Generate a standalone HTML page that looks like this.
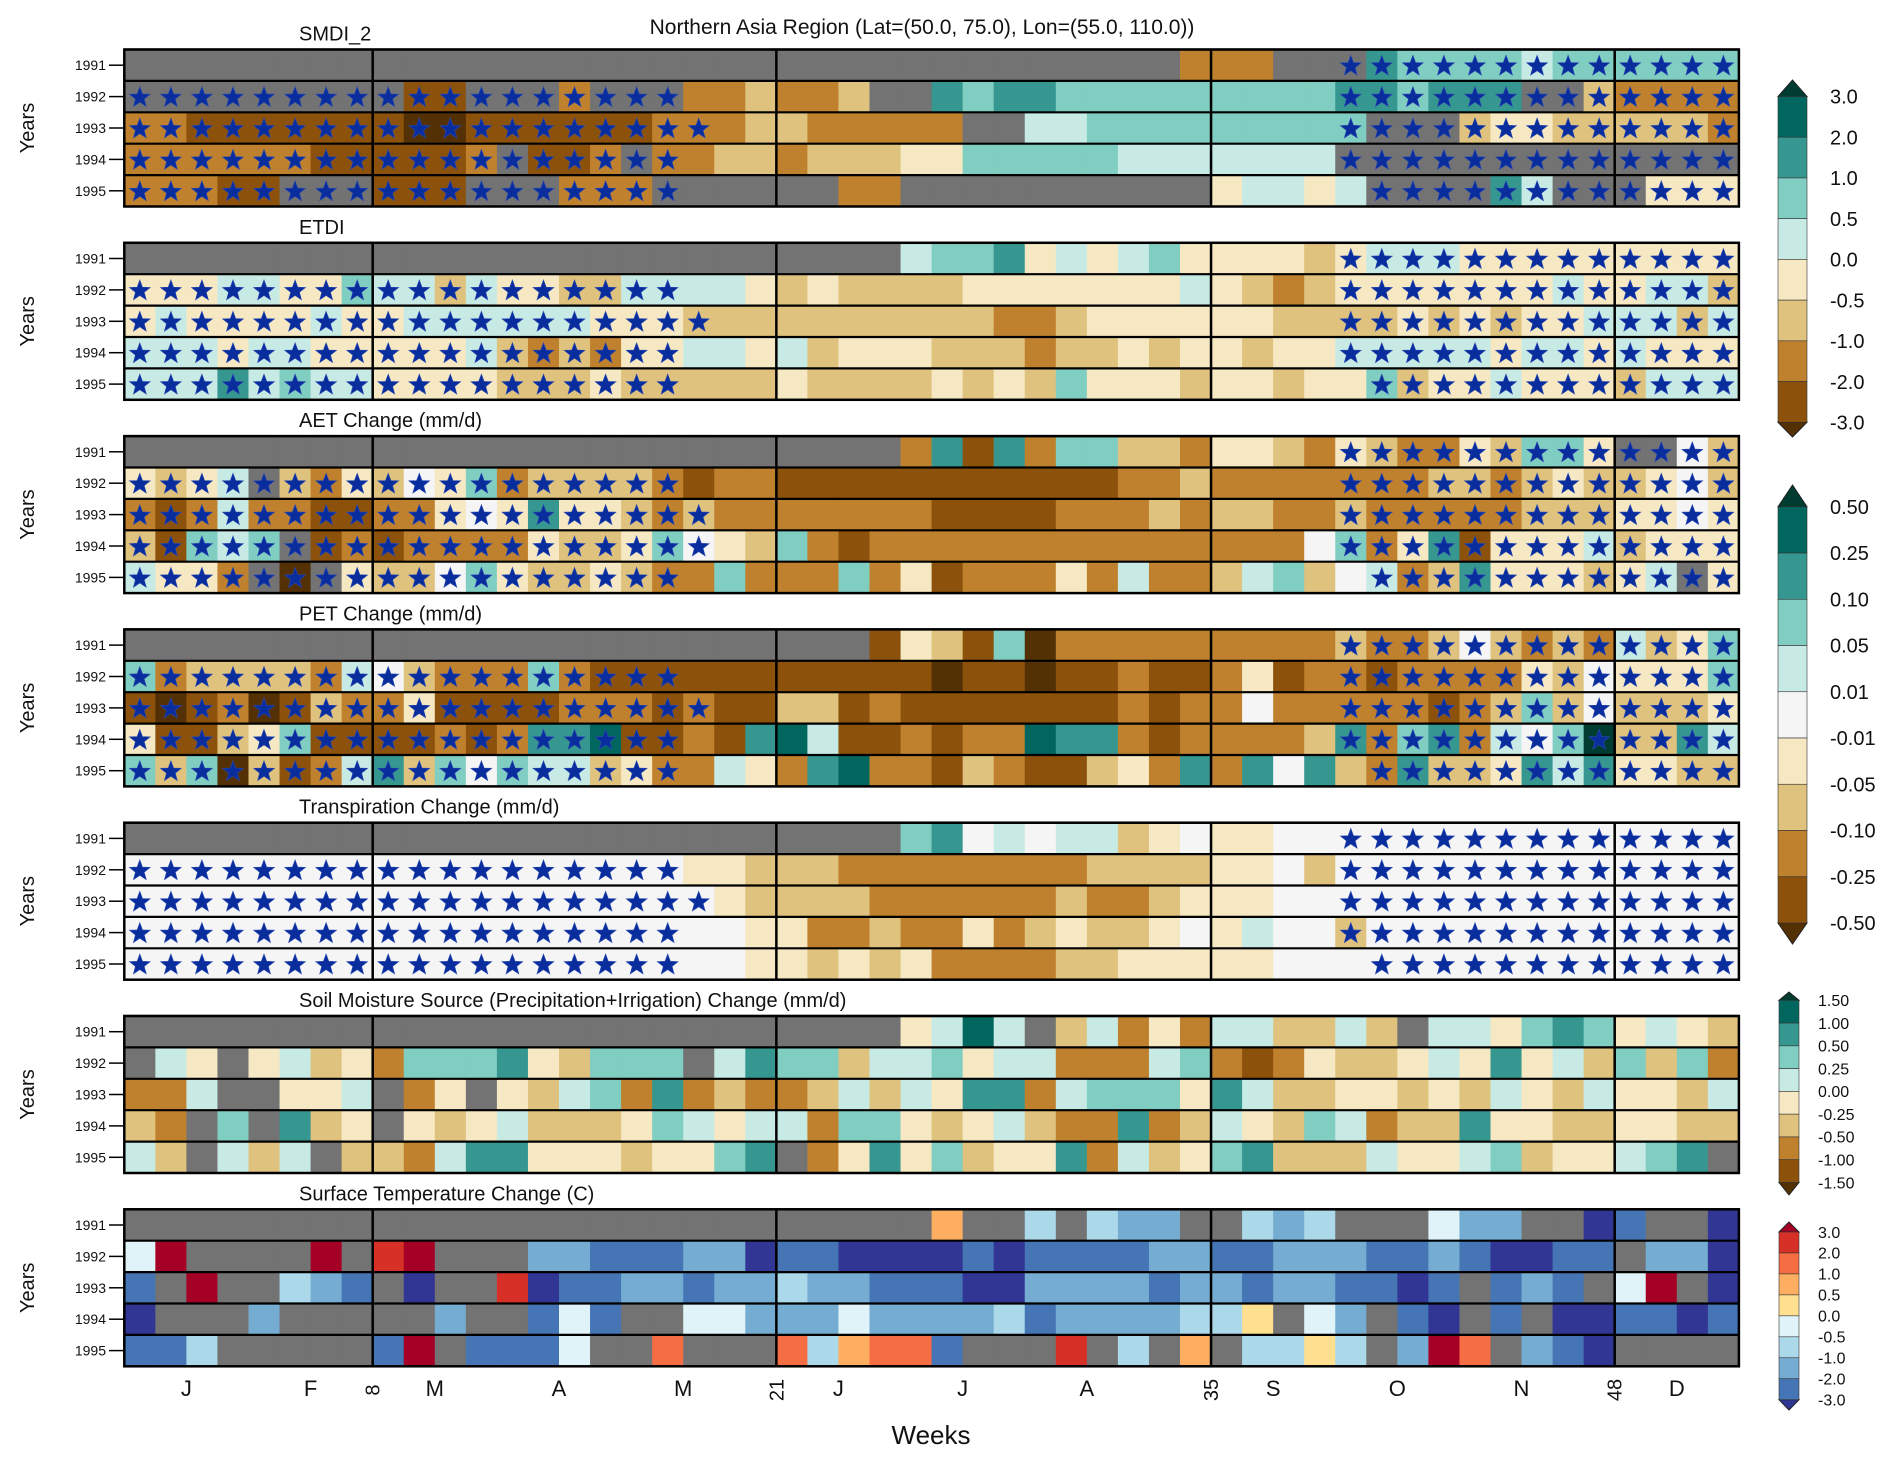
<!DOCTYPE html>
<html><head><meta charset="utf-8"><title>Northern Asia Region</title>
<style>
html,body{margin:0;padding:0;background:#fff;}
svg text{font-family:"Liberation Sans",sans-serif;fill:#111;}
</style></head>
<body>
<svg id="chart" width="1892" height="1464" viewBox="0 0 1892 1464" xmlns="http://www.w3.org/2000/svg">
<text x="922" y="34" font-size="21" text-anchor="middle" style="font-weight:500">Northern Asia Region (Lat=(50.0, 75.0), Lon=(55.0, 110.0))</text>
<text x="931" y="1444" font-size="26" text-anchor="middle">Weeks</text>
</svg>
<script>
// ---- data (run-length encoded category codes per year row, weeks 1..52) ----
const years = ["1991","1992","1993","1994","1995"];
const panelTitles = ["SMDI_2","ETDI","AET Change (mm/d)","PET Change (mm/d)","Transpiration Change (mm/d)","Soil Moisture Source (Precipitation+Irrigation) Change (mm/d)","Surface Temperature Change (C)"];
const smdiRows = [
 "x34 c3 x3 h1 g4 f1 g6",
 "x9 b2 x3 c1 x3 c2 d1 c2 d1 x2 h1 g1 h2 g9 h2 g1 h3 x2 d1 c4",
 "c2 b7 a2 b6 c3 d2 c5 x2 f2 g9 x3 d1 e2 d5 c1",
 "c6 b5 c1 x1 b2 c1 x1 c2 d2 c1 d3 e2 g5 f7 x13",
 "c3 b2 x3 b3 x3 c3 x6 c2 x10 e1 f2 e1 f1 x4 h1 f1 x3 e3"];
const etdiRows = [
 "x25 f1 g2 h1 e1 f1 e1 f1 g1 e4 d1 e1 f3 e9",
 "e3 f2 e2 g1 f2 d1 f1 e2 d2 f4 e1 d1 e1 d4 e7 f1 e1 d1 c1 d1 e7 f1 e2 f2 d1",
 "e1 f1 e4 f1 e2 f6 e3 d10 c2 d1 e6 d4 e1 d1 e1 d1 e2 f3 d1 f1",
 "f3 e1 f2 e5 f1 d1 c1 d1 c1 e2 f2 e1 f1 d1 e3 d3 c1 d2 e1 d1 e2 d1 e2 f5 e1 f2 e1 f1 e3",
 "f3 h1 f1 g1 f2 e4 d3 e1 d5 e1 d4 e1 d1 e1 d1 g1 e3 d1 e2 d1 e2 g1 d1 e2 f1 e3 d1 f3"];
const aetRows = [
 "x25 c1 h1 b1 h1 c1 g2 d2 c1 e2 d1 c1 e1 d1 c2 e1 d1 g2 e1 x2 w1 d1",
 "e1 d1 e1 f1 x1 d1 c1 e1 d1 w1 e1 g1 c1 d4 c1 b1 c2 b11 c2 d1 c7 d2 c1 d1 e1 d2 e1 w1 d1",
 "c1 b1 c1 f1 c2 b2 c2 e1 w1 e1 h1 e2 d1 c1 d1 c7 b4 c3 d1 c1 d2 c2 d1 c5 d3 e2 w1 e1",
 "d1 b1 g1 f1 g1 x1 b1 c1 b1 c4 e1 d2 e1 g1 w1 e1 d1 g1 c1 b1 c14 w1 g1 c1 e1 h1 b1 e3 f1 d1 e3",
 "f1 e2 c1 x1 a1 x1 e1 d2 w1 g1 e1 d2 e1 d1 c2 g1 c3 g1 c1 e1 b1 c3 e1 c1 f1 c2 d1 f1 g1 d1 w1 f1 c1 d1 h1 e3 d1 e1 f1 x1 e1"];
const petRows = [
 "x24 b1 e1 d1 b1 g1 a1 c9 d1 c2 d1 w1 d1 c1 d1 c1 f1 d1 e1 g1",
 "g1 c1 d4 c1 f1 w1 d1 c3 g1 c1 b11 a1 b2 a1 b2 c1 b2 c1 e1 b1 c2 b1 c4 e1 d1 w1 e3 g1",
 "b1 a1 b1 c1 a1 b1 d1 c2 e1 b4 c3 b1 c1 b2 d2 b1 c1 b7 c1 b1 c2 w1 c5 b1 c1 d1 g1 d1 w1 d3 e1",
 "e1 b2 d1 e1 g1 b4 c1 b1 c1 h2 i1 b2 c1 b1 h1 i1 f1 b2 c1 b1 c2 i1 h2 c1 b1 c4 d1 h1 c1 g1 h1 c1 f1 w1 g1 j1 d2 h1 f1",
 "g1 d1 g1 a1 d1 b1 c1 f1 h1 d1 g1 w1 g1 f2 d1 e1 c2 f1 e1 c1 h1 i1 c2 b1 d1 c1 b2 d1 e1 c1 h1 c1 h1 w1 h1 d1 c1 h1 d2 e1 h1 f1 h1 e2 d2"];
const transpRows = [
 "x25 g1 h1 w1 f1 w1 f2 d1 e1 w1 e2 w15",
 "w18 e2 d3 c8 d4 e2 w1 d1 w13",
 "w19 e1 d4 c6 d1 c2 d1 e3 w15",
 "w20 e2 c2 d1 c2 e1 c1 d1 e1 d2 e1 w1 e1 f1 w2 d1 w12",
 "w20 e2 d1 e1 d1 e1 c4 d2 e5 w15"];
const soilRows = [
 "x25 e1 f1 i1 f1 x1 d1 f1 c1 e1 c1 f2 d2 f1 d1 x1 f2 e1 g1 h1 g1 e1 f1 e1 d1",
 "x1 f1 e1 x1 e1 f1 d1 e1 c1 g3 h1 e1 d1 g3 x1 f1 h1 g2 d1 f2 g1 e1 f2 c3 f1 g1 c1 b1 c1 e1 d2 e1 f1 e1 h1 e1 f1 d1 g1 d1 g1 c1",
 "c2 f1 x2 e2 f1 x1 c1 e1 x1 e1 d1 f1 g1 c1 h1 c1 d1 c2 d1 f1 d1 f1 e1 h2 c1 f1 g3 e1 h1 f1 d2 e2 d1 e1 d1 f1 e1 d1 f1 e2 d1 f1",
 "d1 c1 x1 g1 x1 h1 d1 e1 x1 e1 d1 e1 f1 d3 e1 g1 f1 e1 f2 c1 g2 e1 d1 e1 f1 d1 c2 h1 c1 d1 f1 e1 d1 g1 f1 c1 d2 h1 e2 d2 e2 d2",
 "f1 d1 x1 f1 d1 f1 x1 d2 c1 f1 h2 e3 d1 e2 g1 h1 x1 c1 e1 h1 e1 g1 d1 e2 h1 c1 f1 d1 e1 g1 h1 d3 f1 e2 f1 g1 d1 e2 f1 g1 h1 x1"];
const tempRows = [
 "x26 p1 x2 l1 x1 l1 m2 x2 l1 m1 l1 x3 k1 m2 x2 q1 n1 x2 q1",
 "k1 R1 x4 R1 x1 r1 R1 x3 m2 n3 m2 q1 n2 q4 n1 q1 n4 m2 n2 m3 n2 m1 n1 q2 n2 x1 m2 q1",
 "n1 x1 R1 x2 l1 m1 n1 x1 q1 x2 r1 q1 n2 m2 n1 m2 l1 m2 n3 q2 m4 n1 m2 n1 m2 n2 q1 n1 x1 n1 m1 n1 x1 k1 R1 x1 q1",
 "q1 x3 m1 x5 m1 x2 n1 k1 n1 x2 k2 m3 k1 m4 l1 n1 m4 l2 y1 x1 k1 m1 x1 n1 q1 x1 n1 x1 q2 n2 q1 n1",
 "n2 l1 x5 n1 R1 x1 n3 k1 x2 o1 x3 o1 l1 p1 o2 n1 x3 r1 x1 l1 x1 p1 x1 l2 y1 l1 x1 m1 R1 o1 x1 m1 n1 q1 x4"];
// star (significance) week ranges per year row
const smdiStars = [[[40,52]],[[1,18],[40,52]],[[1,19],[40,52]],[[1,18],[40,52]],[[1,18],[41,52]]];
const etdiStars = [[[40,52]],[[1,18],[40,52]],[[1,19],[40,52]],[[1,18],[40,52]],[[1,18],[41,52]]];
const aetStars = [[[40,52]],[[1,18],[40,52]],[[1,19],[40,52]],[[1,19],[40,52]],[[1,18],[41,52]]];
const petStars = [[[40,52]],[[1,18],[40,52]],[[1,19],[40,52]],[[1,18],[40,52]],[[1,18],[41,52]]];
const transpStars = [[[40,52]],[[1,18],[40,52]],[[1,19],[40,52]],[[1,18],[40,52]],[[1,18],[41,52]]];
const noStars = [[],[],[],[],[]];
const monthLabels = ["J","F","M","A","M","J","J","A","S","O","N","D"];
const monthWeeks = [2,6,10,14,18,23,27,31,37,41,45,50];
const sepWeeks = [8,21,35,48];
const cb1Labels = ["3.0","2.0","1.0","0.5","0.0","-0.5","-1.0","-2.0","-3.0"];
const cb2Labels = ["0.50","0.25","0.10","0.05","0.01","-0.01","-0.05","-0.10","-0.25","-0.50"];
const cb3Labels = ["1.50","1.00","0.50","0.25","0.00","-0.25","-0.50","-1.00","-1.50"];
const cb4Labels = ["3.0","2.0","1.0","0.5","0.0","-0.5","-1.0","-2.0","-3.0"];

// ---- styles ----
const COL = {a:"#543005",b:"#8c510a",c:"#bf812d",d:"#dfc27d",e:"#f6e8c3",w:"#f5f5f5",f:"#c7eae5",g:"#80cdc1",h:"#35978f",i:"#01665e",j:"#003c30",x:"#737373",
  R:"#a50026",r:"#d73027",o:"#f46d43",p:"#fdae61",y:"#fee090",k:"#e0f3f8",l:"#abd9e9",m:"#74add1",n:"#4575b4",q:"#313695"};
const X0 = 124.3, WW = 31.05, PT0 = 49.5, PSTEP = 193.3, RH = 31.4;
const NS = "http://www.w3.org/2000/svg";
const svg = document.getElementById("chart");
function mk(tag, attrs, parent){const e=document.createElementNS(NS,tag);for(const k in attrs)e.setAttribute(k,attrs[k]);(parent||svg).appendChild(e);return e;}
function xw(week){return X0 + (week-1)*WW;}
function decode(s){const out=[];s.split(" ").forEach(t=>{const c=t[0],n=parseInt(t.slice(1));for(let i=0;i<n;i++)out.push(c);});return out;}
function starPts(cx,cy,R){const r=R*0.42;let p=[];for(let i=0;i<10;i++){const a=-Math.PI/2+i*Math.PI/5;const rr=i%2?r:R;p.push((cx+rr*Math.cos(a)).toFixed(1)+","+(cy+rr*Math.sin(a)).toFixed(1));}return p.join(" ");}

const panels = [
 [smdiRows, smdiStars],[etdiRows, etdiStars],[aetRows, aetStars],[petRows, petStars],
 [transpRows, transpStars],[soilRows, noStars],[tempRows, noStars]];

panels.forEach((pd, p) => {
  const top = PT0 + p*PSTEP;
  const g = mk("g", {});
  
  
  const t = mk("text", {x:299, y:(top-9).toFixed(1), "font-size":20}, g);
  t.textContent = panelTitles[p];
  
  
  const yl = mk("text", {x:0, y:0, "font-size":20, "text-anchor":"middle", transform:"translate(34,"+(top+RH*2.5).toFixed(1)+") rotate(-90)"}, g);
  yl.textContent = "Years";
  
  
  pd[0].forEach((rowStr, r) => {
    const cells = decode(rowStr);
    const ry = top + r*RH;
    cells.forEach((c, wi) => {
      const rc = mk("rect", {x:xw(wi+1).toFixed(2), y:ry.toFixed(2), width:(WW+0.6).toFixed(2), height:(RH+0.4).toFixed(2), fill:COL[c]}, g);
      
      
    });
    pd[1][r].forEach(rg => {
      for (let w = rg[0]; w <= rg[1]; w++) {
        const s = mk("polygon", {points:starPts(xw(w)+WW/2, ry+RH/2+1, 11), fill:"#0a2d9e", stroke:"#2a4ab0", "stroke-width":0.6}, g);
        
        
      }
    });
    mk("line", {x1:X0, x2:xw(53), y1:ry.toFixed(2), y2:ry.toFixed(2), stroke:"#000", "stroke-width":2.2}, g);
    mk("line", {x1:109, x2:X0, y1:(ry+RH/2).toFixed(1), y2:(ry+RH/2).toFixed(1), stroke:"#000", "stroke-width":1.5}, g);
    const yt = mk("text", {x:106, y:(ry+RH/2+5).toFixed(1), "font-size":14, "text-anchor":"end"}, g);
    yt.textContent = years[r];
    
    
  });
  sepWeeks.forEach(sw => {
    mk("line", {x1:xw(sw+1).toFixed(2), x2:xw(sw+1).toFixed(2), y1:top, y2:top+5*RH, stroke:"#000", "stroke-width":2.5}, g);
  });
  mk("rect", {x:X0, y:top, width:(52*WW).toFixed(2), height:(5*RH).toFixed(2), fill:"none", stroke:"#000", "stroke-width":2.5}, g);
});

monthLabels.forEach((m, i) => {
  const t = mk("text", {x:xw(monthWeeks[i]+1).toFixed(1), y:1396, "font-size":22, "text-anchor":"middle"});
  t.textContent = m;
  
  
});
sepWeeks.forEach(sw => {
  const t = mk("text", {x:0, y:0, "font-size":20, "text-anchor":"middle", transform:"translate("+(xw(sw+1)+7).toFixed(1)+",1390) rotate(-90)"});
  t.textContent = String(sw);
  
  
});

function colorbar(name, x, w, apexTop, yTop, yBot, apexBot, codes, topTri, botTri, labels, lx, fs){
  const g = mk("g", {});
  
  
  const n = codes.length, h = (yBot-yTop)/n;
  mk("polygon", {points:x+","+yTop+" "+(x+w)+","+yTop+" "+(x+w/2)+","+apexTop, fill:COL[topTri], stroke:"#222", "stroke-width":1}, g);
  mk("polygon", {points:x+","+yBot+" "+(x+w)+","+yBot+" "+(x+w/2)+","+apexBot, fill:COL[botTri], stroke:"#222", "stroke-width":1}, g);
  codes.forEach((c, i) => {
    mk("rect", {x:x, y:(yTop+i*h).toFixed(2), width:w, height:h.toFixed(2), fill:COL[c], stroke:"#333", "stroke-width":0.6}, g);
  });
  labels.forEach((lb, i) => {
    const t = mk("text", {x:lx, y:(yTop+i*h+fs*0.36).toFixed(1), "font-size":fs}, g);
    t.textContent = lb;
    
    
  });
}
colorbar("colorbar-smdi-etdi", 1778, 29, 80, 96.5, 422.3, 437, ["i","h","g","f","e","d","c","b"], "j", "a", cb1Labels, 1830, 20);
colorbar("colorbar-et-change", 1778, 29, 485, 506.8, 923, 944, ["i","h","g","f","w","e","d","c","b"], "j", "a", cb2Labels, 1830, 20);
colorbar("colorbar-soil-source", 1779, 20, 992, 1000.3, 1182.5, 1195, ["i","h","g","f","e","d","c","b"], "j", "a", cb3Labels, 1818, 16);
colorbar("colorbar-temperature", 1779, 20, 1222, 1232, 1399.7, 1410, ["r","o","p","y","k","l","m","n"], "R", "q", cb4Labels, 1818, 16);
</script>
</body></html>
